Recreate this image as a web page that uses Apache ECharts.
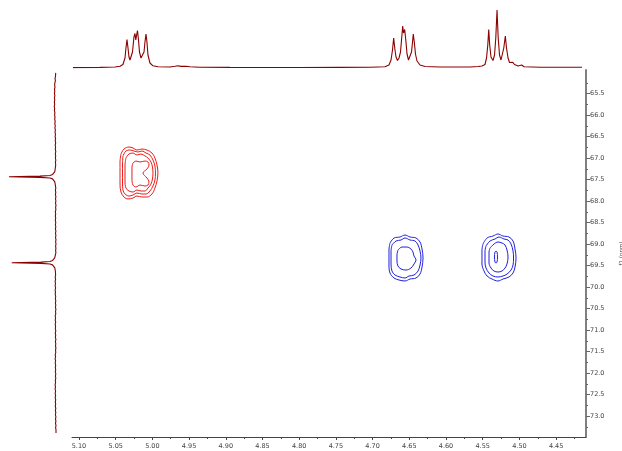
<!DOCTYPE html>
<html><head><meta charset="utf-8">
<script src="https://cdn.jsdelivr.net/npm/echarts@6/dist/echarts.min.js"></script>
<style>html,body{margin:0;padding:0;background:#fff}#c{width:622px;height:451px}</style>
</head><body><div id="c"></div>
<script>
// ---- axis ticks (ppm) ----
const xTicks = [5.10,5.05,5.00,4.95,4.90,4.85,4.80,4.75,4.70,4.65,4.60,4.55,4.50,4.45];
const xMinor = [5.075,5.025,4.975,4.925,4.875,4.825,4.775,4.725,4.675,4.625,4.575,4.525,4.475,4.425];
const yTicks = [65.5,66.0,66.5,67.0,67.5,68.0,68.5,69.0,69.5,70.0,70.5,71.0,71.5,72.0,72.5,73.0];
const yMinor = [65.25,65.75,66.25,66.75,67.25,67.75,68.25,68.75,69.25,69.75,70.25,70.75,71.25,71.75,72.25,72.75,73.25];
const xRange = [4.4093, 5.1095];
const yRange = [64.953, 73.488];

// ---- 1H projection (top): [ppm, intensity] ----
const topTrace = [
[5.1082,0.4],[5.0714,0.6],[5.0510,1.0],[5.0441,1.7],[5.0401,3.5],[5.0373,10],[5.0360,20],[5.0346,28.5],
[5.0332,20],[5.0319,11],[5.0305,8],[5.0292,9],[5.0271,16],[5.0251,31],[5.0237,34.5],[5.0226,28],
[5.0217,32],[5.0203,37.5],[5.0189,28],[5.0176,16],[5.0155,10],[5.0135,9],[5.0114,16],[5.0101,26],
[5.0087,34],[5.0074,26],[5.0060,13],[5.0033,5],[4.9992,2.2],[4.9924,1.2],[4.9760,1.0],[4.9692,1.7],
[4.9651,2.2],[4.9610,1.6],[4.9542,1.7],[4.9488,1.2],[4.9352,0.8],[4.8943,0.6],[4.8534,0.5],[4.7989,0.5],
[4.7444,0.6],[4.7035,0.7],[4.6831,1.2],[4.6777,3],[4.6749,8],[4.6729,18],[4.6713,30],[4.6695,18],
[4.6681,11],[4.6661,7.5],[4.6640,10],[4.6620,16],[4.6606,28],[4.6590,42],[4.6579,35],[4.6563,38.5],
[4.6548,28],[4.6531,14],[4.6511,8],[4.6490,9],[4.6470,16],[4.6456,26],[4.6446,34],[4.6432,26],
[4.6416,14],[4.6395,7],[4.6354,3],[4.6286,1.5],[4.6082,1],[4.5673,1],[4.5564,1.5],[4.5537,3.5],
[4.5510,2],[4.5469,3.5],[4.5448,10],[4.5431,23],[4.5418,38.5],[4.5405,23],[4.5387,11],[4.5360,7.5],
[4.5339,13],[4.5322,30],[4.5305,58],[4.5289,30],[4.5271,13],[4.5251,8],[4.5230,10],[4.5213,20],
[4.5192,32],[4.5176,20],[4.5155,10],[4.5135,5.5],[4.5114,5],[4.5091,5.7],[4.5067,3.5],[4.5019,2],
[4.4969,3],[4.4937,1.2],[4.4719,0.7],[4.4147,0.7]
];

// ---- 13C projection (left): [intensity, ppm] ----
const leftTrace = [
[4.3,65.02],[4.8,65.06],[4.5,65.1],[5.0,65.15],[4.6,65.2],[5.1,65.25],[5.4,65.3],[5.0,65.35],[5.5,65.4],[5.2,65.45],
[5.6,65.5],[5.1,65.55],[5.6,65.6],[5.2,65.65],[5.7,65.7],[5.3,65.75],[5.8,65.8],[5.3,65.85],[5.6,65.9],[5.1,65.95],
[5.4,66.0],[5.0,66.05],[5.3,66.1],[4.8,66.15],[5.2,66.2],[4.7,66.25],[5.1,66.3],[4.6,66.35],[5.0,66.4],[4.5,66.45],
[4.9,66.5],[4.4,66.55],[4.8,66.6],[4.3,66.65],[4.8,66.7],[4.4,66.75],[4.7,66.8],[4.2,66.85],[4.7,66.9],[4.3,66.95],
[4.6,67.0],[4.2,67.05],[4.6,67.1],[4.3,67.15],[4.5,67.2],[4.8,67.235],[5.2,67.315],[6.0,67.355],[7.5,67.385],[10,67.405],[20,67.42],
[51,67.435],[20,67.45],[10,67.465],[7.5,67.485],[6.0,67.515],[5.2,67.555],[4.6,67.635],[4.2,67.7],[4.6,67.75],[4.2,67.8],
[4.6,67.85],[4.1,67.9],[4.5,67.95],[4.1,68.0],[4.5,68.05],[4.0,68.1],[4.4,68.15],[4.1,68.2],[4.7,68.25],[4.3,68.3],
[4.7,68.35],[4.3,68.4],[4.7,68.45],[4.2,68.5],[4.6,68.55],[4.2,68.6],[4.6,68.65],[4.1,68.7],[4.5,68.75],[4.1,68.8],
[4.5,68.85],[4.0,68.9],[4.4,68.95],[4.0,69.0],[4.4,69.05],[4.1,69.1],[4.4,69.15],[4.1,69.2],[4.6,69.235],[5.2,69.315],[6.0,69.355],[7.5,69.385],[10,69.405],
[19,69.42],[48.3,69.435],[19,69.45],[10,69.465],[7.5,69.485],[6.0,69.515],[5.2,69.555],[4.6,69.635],[4.9,69.68],[4.4,69.72],
[4.8,69.77],[4.4,69.82],[4.9,69.87],[4.5,69.92],[4.9,69.97],[4.4,70.02],[4.9,70.07],[4.5,70.12],[4.8,70.17],[4.3,70.22],
[4.7,70.27],[4.2,70.32],[4.6,70.37],[4.2,70.42],[4.6,70.47],[4.1,70.52],[4.5,70.57],[4.2,70.62],[4.8,70.67],[4.4,70.72],
[4.8,70.77],[4.3,70.82],[4.8,70.87],[4.4,70.92],[4.7,70.97],[4.2,71.02],[4.7,71.07],[4.3,71.12],[4.6,71.17],[4.1,71.22],
[4.6,71.27],[4.2,71.32],[4.5,71.37],[4.1,71.42],[4.5,71.47],[4.2,71.52],[4.8,71.57],[4.4,71.62],[4.9,71.67],[4.4,71.72],
[4.8,71.77],[4.3,71.82],[4.7,71.87],[4.3,71.92],[4.7,71.97],[4.2,72.02],[4.6,72.07],[4.2,72.12],[4.7,72.17],[4.4,72.22],
[4.9,72.27],[4.5,72.32],[4.9,72.37],[4.4,72.42],[4.8,72.47],[4.4,72.52],[4.8,72.57],[4.3,72.62],[4.7,72.67],[4.3,72.72],
[4.7,72.77],[4.2,72.82],[4.6,72.87],[4.2,72.92],[4.6,72.97],[4.1,73.02],[4.5,73.07],[4.1,73.12],[4.5,73.17],[4.0,73.22],
[4.4,73.27],[4.0,73.32],[4.4,73.36],[4.0,73.395]
];

// ---- contours: [ppm(1H), ppm(13C)] ----
const redContours = [
[[5.0428,66.907],[5.0387,66.791],[5.0319,66.744],[5.0264,66.767],[5.0210,66.814],[5.0142,66.791],[5.0074,66.814],[5.0005,66.884],[4.9965,67.000],[4.9937,67.163],[4.9924,67.349],[4.9937,67.535],[4.9965,67.698],[5.0005,67.837],[5.0074,67.907],[5.0142,67.907],[5.0210,67.884],[5.0264,67.930],[5.0332,67.953],[5.0387,67.907],[5.0428,67.791],[5.0441,67.605],[5.0441,67.349],[5.0441,67.093],[5.0428,66.907]],
[[5.0401,66.953],[5.0360,66.837],[5.0305,66.814],[5.0251,66.837],[5.0196,66.860],[5.0142,66.837],[5.0087,66.884],[5.0033,66.930],[4.9992,67.047],[4.9965,67.186],[4.9958,67.349],[4.9965,67.512],[4.9992,67.651],[5.0033,67.767],[5.0087,67.837],[5.0142,67.837],[5.0210,67.814],[5.0264,67.860],[5.0319,67.884],[5.0373,67.837],[5.0401,67.744],[5.0407,67.558],[5.0407,67.349],[5.0407,67.140],[5.0401,66.953]],
[[5.0360,67.000],[5.0319,66.907],[5.0264,66.884],[5.0210,66.930],[5.0155,66.907],[5.0101,66.953],[5.0060,67.000],[5.0019,67.093],[4.9999,67.209],[4.9992,67.349],[4.9999,67.488],[5.0019,67.605],[5.0060,67.698],[5.0101,67.767],[5.0155,67.767],[5.0210,67.744],[5.0264,67.791],[5.0319,67.767],[5.0360,67.698],[5.0373,67.535],[5.0373,67.349],[5.0373,67.163],[5.0360,67.000]],
[[5.0264,67.116],[5.0223,67.070],[5.0169,67.093],[5.0101,67.070],[5.0060,67.093],[5.0046,67.163],[5.0074,67.256],[5.0128,67.349],[5.0074,67.465],[5.0046,67.558],[5.0060,67.628],[5.0101,67.651],[5.0169,67.628],[5.0223,67.674],[5.0264,67.628],[5.0278,67.488],[5.0278,67.349],[5.0278,67.209],[5.0264,67.116]]
];
const blueContours = [
[[4.6763,68.977],[4.6708,68.860],[4.6627,68.837],[4.6559,68.791],[4.6490,68.837],[4.6409,68.860],[4.6354,68.953],[4.6327,69.116],[4.6313,69.326],[4.6327,69.535],[4.6354,69.698],[4.6409,69.791],[4.6490,69.814],[4.6559,69.860],[4.6640,69.837],[4.6708,69.791],[4.6763,69.674],[4.6777,69.488],[4.6777,69.326],[4.6777,69.140],[4.6763,68.977]],
[[4.6736,69.023],[4.6681,68.930],[4.6613,68.907],[4.6559,68.860],[4.6490,68.907],[4.6422,68.930],[4.6381,69.023],[4.6354,69.163],[4.6341,69.326],[4.6354,69.488],[4.6381,69.628],[4.6436,69.721],[4.6504,69.744],[4.6559,69.791],[4.6627,69.767],[4.6695,69.721],[4.6736,69.628],[4.6749,69.465],[4.6749,69.326],[4.6749,69.163],[4.6736,69.023]],
[[4.6654,69.140],[4.6599,69.070],[4.6531,69.070],[4.6477,69.116],[4.6450,69.186],[4.6436,69.279],[4.6409,69.372],[4.6436,69.465],[4.6477,69.558],[4.6545,69.605],[4.6613,69.581],[4.6654,69.512],[4.6668,69.395],[4.6668,69.256],[4.6654,69.140]],
[[4.5496,69.000],[4.5441,68.860],[4.5360,68.814],[4.5292,68.767],[4.5224,68.814],[4.5142,68.837],[4.5087,68.930],[4.5060,69.116],[4.5046,69.326],[4.5060,69.535],[4.5087,69.674],[4.5142,69.767],[4.5224,69.814],[4.5292,69.860],[4.5373,69.814],[4.5441,69.744],[4.5482,69.628],[4.5510,69.465],[4.5510,69.302],[4.5510,69.140],[4.5496,69.000]],
[[4.5455,69.047],[4.5401,68.930],[4.5333,68.884],[4.5278,68.837],[4.5210,68.884],[4.5155,68.907],[4.5114,69.000],[4.5087,69.163],[4.5080,69.326],[4.5087,69.488],[4.5114,69.605],[4.5169,69.698],[4.5224,69.744],[4.5292,69.767],[4.5360,69.744],[4.5414,69.674],[4.5455,69.558],[4.5469,69.419],[4.5469,69.302],[4.5469,69.163],[4.5455,69.047]],
[[4.5401,69.093],[4.5346,69.000],[4.5292,68.953],[4.5237,68.977],[4.5196,69.023],[4.5169,69.140],[4.5155,69.302],[4.5169,69.465],[4.5196,69.558],[4.5237,69.628],[4.5292,69.651],[4.5346,69.628],[4.5387,69.558],[4.5414,69.442],[4.5414,69.302],[4.5414,69.186],[4.5401,69.093]],
[[4.5319,69.163],[4.5305,69.186],[4.5299,69.302],[4.5305,69.419],[4.5319,69.442],[4.5333,69.419],[4.5339,69.302],[4.5333,69.186],[4.5319,69.163]]
];

const FONT = 'DejaVu Sans';
const chart = echarts.init(document.getElementById('c'), null, {renderer: 'canvas'});
const series = [];
redContours.forEach(c => series.push({type:'line', xAxisIndex:0, yAxisIndex:0, data:c, showSymbol:false, smooth:0.35, silent:true,
  lineStyle:{color:'#ee1c1c', width:1}}));
blueContours.forEach(c => series.push({type:'line', xAxisIndex:0, yAxisIndex:0, data:c, showSymbol:false, smooth:0.35, silent:true,
  lineStyle:{color:'#2020dd', width:1}}));
series.push({type:'line', xAxisIndex:2, yAxisIndex:2, data:topTrace, showSymbol:false, silent:true,
  lineStyle:{color:'#8b0000', width:1.1}});
series.push({type:'line', xAxisIndex:3, yAxisIndex:3, data:leftTrace, showSymbol:false, silent:true,
  lineStyle:{color:'#8b0000', width:1.1}});

chart.setOption({
  animation:false,
  backgroundColor:'#ffffff',
  grid:[
    {left:72, right:36, top:70, bottom:14, outerBoundsMode:'none', containLabel:false},
    {left:72, right:36, top:0, height:68, outerBoundsMode:'none', containLabel:false},
    {left:0, width:60, top:70, bottom:14, outerBoundsMode:'none', containLabel:false}
  ],
  xAxis:[
    {type:'value', gridIndex:0, min:xRange[0], max:xRange[1], inverse:true, position:'bottom',
     axisLine:{lineStyle:{color:'#444', width:1}},
     axisTick:{customValues:xTicks, length:3, lineStyle:{color:'#444'}},
     axisLabel:{customValues:xTicks, formatter:v=>v.toFixed(2), fontSize:6.5, color:'#444', fontFamily:FONT, margin:6},
     splitLine:{show:false}},
    {type:'value', gridIndex:0, min:xRange[0], max:xRange[1], inverse:true, position:'bottom',
     axisLine:{show:false},
     axisTick:{customValues:xMinor, length:2, lineStyle:{color:'#444'}},
     axisLabel:{show:false}, splitLine:{show:false}},
    {type:'value', gridIndex:1, min:xRange[0], max:xRange[1], inverse:true, show:false},
    {type:'value', gridIndex:2, min:0, max:60, inverse:true, show:false}
  ],
  yAxis:[
    {type:'value', gridIndex:0, min:yRange[0], max:yRange[1], inverse:true, position:'right',
     axisLine:{show:true, lineStyle:{color:'#808080', width:2}},
     axisTick:{show:true, customValues:yTicks, length:4, lineStyle:{color:'#666'}},
     axisLabel:{customValues:yTicks, formatter:v=>v.toFixed(1), fontSize:6.5, color:'#444', fontFamily:FONT, margin:4},
     splitLine:{show:false},
     name:'f1 (ppm)', nameLocation:'middle', nameRotate:90, nameGap:33,
     nameTextStyle:{fontSize:5.5, color:'#444', fontFamily:FONT}},
    {type:'value', gridIndex:0, min:yRange[0], max:yRange[1], inverse:true, position:'right',
     axisLine:{show:false},
     axisTick:{show:true, customValues:yMinor, length:2, lineStyle:{color:'#666'}},
     axisLabel:{show:false}, splitLine:{show:false}},
    {type:'value', gridIndex:1, min:0, max:68, show:false},
    {type:'value', gridIndex:2, min:yRange[0], max:yRange[1], inverse:true, show:false}
  ],
  series: series
});
</script>
</body></html>
